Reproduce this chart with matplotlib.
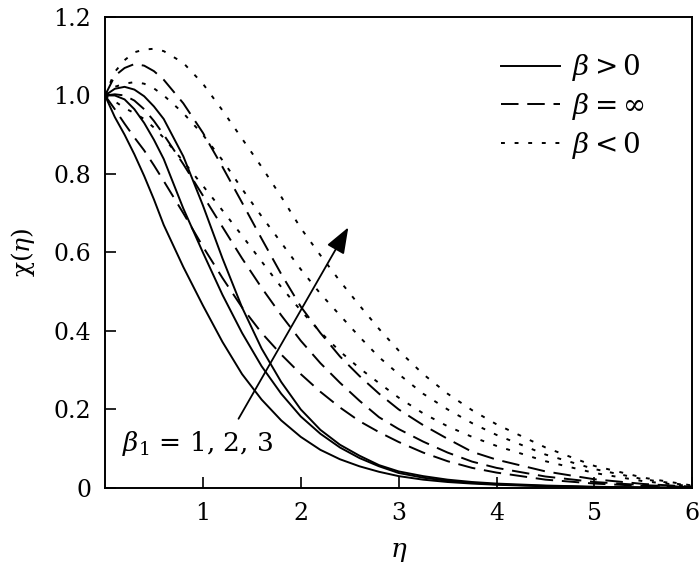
import numpy as np
import matplotlib
matplotlib.use("Agg")
import matplotlib.pyplot as plt

plt.rcParams['font.family'] = ['DejaVu Serif']
plt.rcParams['mathtext.fontset'] = 'dejavuserif'

# eta grid
eta = [0, 0.1, 0.2, 0.3, 0.4, 0.5, 0.6, 0.8, 1.0, 1.2, 1.4, 1.6, 1.8, 2.0,
       2.2, 2.4, 2.6, 2.8, 3.0, 3.25, 3.5, 3.75, 4.0, 4.5, 5.0, 5.5, 6.0]

# beta > 0  (solid), beta1 = 1, 2, 3
s1 = [1.0, 0.945, 0.9, 0.85, 0.795, 0.735, 0.67, 0.563, 0.465, 0.372, 0.29, 0.225, 0.172, 0.13,
      0.097, 0.073, 0.055, 0.041, 0.03, 0.021, 0.015, 0.011, 0.008, 0.004, 0.002, 0.001, 0.0]
s2 = [1.0, 1.0, 0.99, 0.965, 0.93, 0.887, 0.838, 0.712, 0.6, 0.492, 0.395, 0.31, 0.24, 0.182,
      0.138, 0.103, 0.076, 0.055, 0.038, 0.026, 0.018, 0.013, 0.009, 0.005, 0.002, 0.001, 0.0]
s3 = [1.0, 1.017, 1.022, 1.015, 0.998, 0.972, 0.94, 0.845, 0.72, 0.585, 0.46, 0.355, 0.27, 0.2,
      0.148, 0.11, 0.082, 0.058, 0.042, 0.03, 0.021, 0.015, 0.011, 0.006, 0.003, 0.001, 0.0]

# beta = inf  (dashed)
d1 = [1.0, 0.965, 0.928, 0.893, 0.86, 0.822, 0.782, 0.70, 0.615, 0.535, 0.46, 0.395, 0.34, 0.29,
      0.245, 0.205, 0.17, 0.142, 0.117, 0.09, 0.068, 0.051, 0.039, 0.021, 0.011, 0.005, 0.001]
d2 = [1.0, 1.003, 1.0, 0.987, 0.965, 0.935, 0.9, 0.825, 0.745, 0.665, 0.585, 0.51, 0.44, 0.375,
      0.318, 0.268, 0.222, 0.18, 0.15, 0.118, 0.09, 0.067, 0.051, 0.029, 0.015, 0.007, 0.002]
d3 = [1.0, 1.05, 1.07, 1.08, 1.076, 1.062, 1.04, 0.98, 0.905, 0.818, 0.727, 0.635, 0.545, 0.462,
      0.395, 0.335, 0.285, 0.24, 0.2, 0.16, 0.125, 0.092, 0.072, 0.042, 0.022, 0.01, 0.003]

# beta < 0  (dotted)
p1 = [1.0, 0.985, 0.968, 0.955, 0.94, 0.918, 0.892, 0.832, 0.77, 0.707, 0.643, 0.577, 0.512, 0.452,
      0.397, 0.348, 0.305, 0.267, 0.23, 0.19, 0.157, 0.13, 0.107, 0.068, 0.038, 0.017, 0.004]
p2 = [1.0, 1.022, 1.03, 1.034, 1.03, 1.018, 1.0, 0.955, 0.9, 0.835, 0.762, 0.692, 0.625, 0.557,
      0.495, 0.44, 0.385, 0.333, 0.29, 0.24, 0.2, 0.165, 0.135, 0.085, 0.048, 0.022, 0.005]
p3 = [1.0, 1.06, 1.09, 1.11, 1.117, 1.119, 1.113, 1.083, 1.03, 0.962, 0.89, 0.818, 0.742, 0.662,
      0.593, 0.527, 0.465, 0.405, 0.35, 0.29, 0.24, 0.198, 0.162, 0.103, 0.056, 0.026, 0.006]

solid = [s1, s2, s3]
dashed = [d1, d2, d3]
dotted = [p1, p2, p3]

fig = plt.figure(figsize=(7, 5.66), dpi=100)
ax = fig.add_axes([0.15, 0.138, 0.839, 0.832])

lw = 1.4
for i, y in enumerate(solid):
    ax.plot(eta, y, color='black', lw=lw, ls='-', label=r'$\beta>0$' if i == 0 else None)
for i, y in enumerate(dashed):
    ax.plot(eta, y, color='black', lw=lw, ls=(0, (9, 4.5)), label=r'$\beta=\infty$' if i == 0 else None)
for i, y in enumerate(dotted):
    ax.plot(eta, y, color='black', lw=lw, ls=(0, (2, 5)), label=r'$\beta<0$' if i == 0 else None)

ax.annotate('', xy=(2.5, 0.67), xytext=(1.35, 0.17),
            arrowprops=dict(arrowstyle='-|>,head_length=0.8,head_width=0.3',
                            color='black', lw=1.3, mutation_scale=20))
ax.text(0.17, 0.113, r'$\beta_1$ = 1, 2, 3', fontsize=19, va='center', ha='left')

ax.set_xlim(0, 6)
ax.set_ylim(0, 1.2)
ax.set_xticks([1, 2, 3, 4, 5, 6])
ax.set_yticks([0, 0.2, 0.4, 0.6, 0.8, 1.0, 1.2])
ax.set_yticklabels(['0', '0.2', '0.4', '0.6', '0.8', '1.0', '1.2'])
ax.tick_params(direction='in', length=8, width=1.2, labelsize=17, pad=10,
               top=False, right=False)
for sp in ax.spines.values():
    sp.set_linewidth(1.4)

ax.set_xlabel(r'$\eta$', fontsize=19, labelpad=10)
ax.set_ylabel('χ(' + r'$\eta$' + ')', fontsize=18, labelpad=12)

leg = ax.legend(loc='upper left', bbox_to_anchor=(0.675, 0.925), frameon=False,
                fontsize=20, handlelength=2.1, handletextpad=0.45,
                labelspacing=0.28, borderaxespad=0, borderpad=0)

fig.savefig('out.png', dpi=100)
